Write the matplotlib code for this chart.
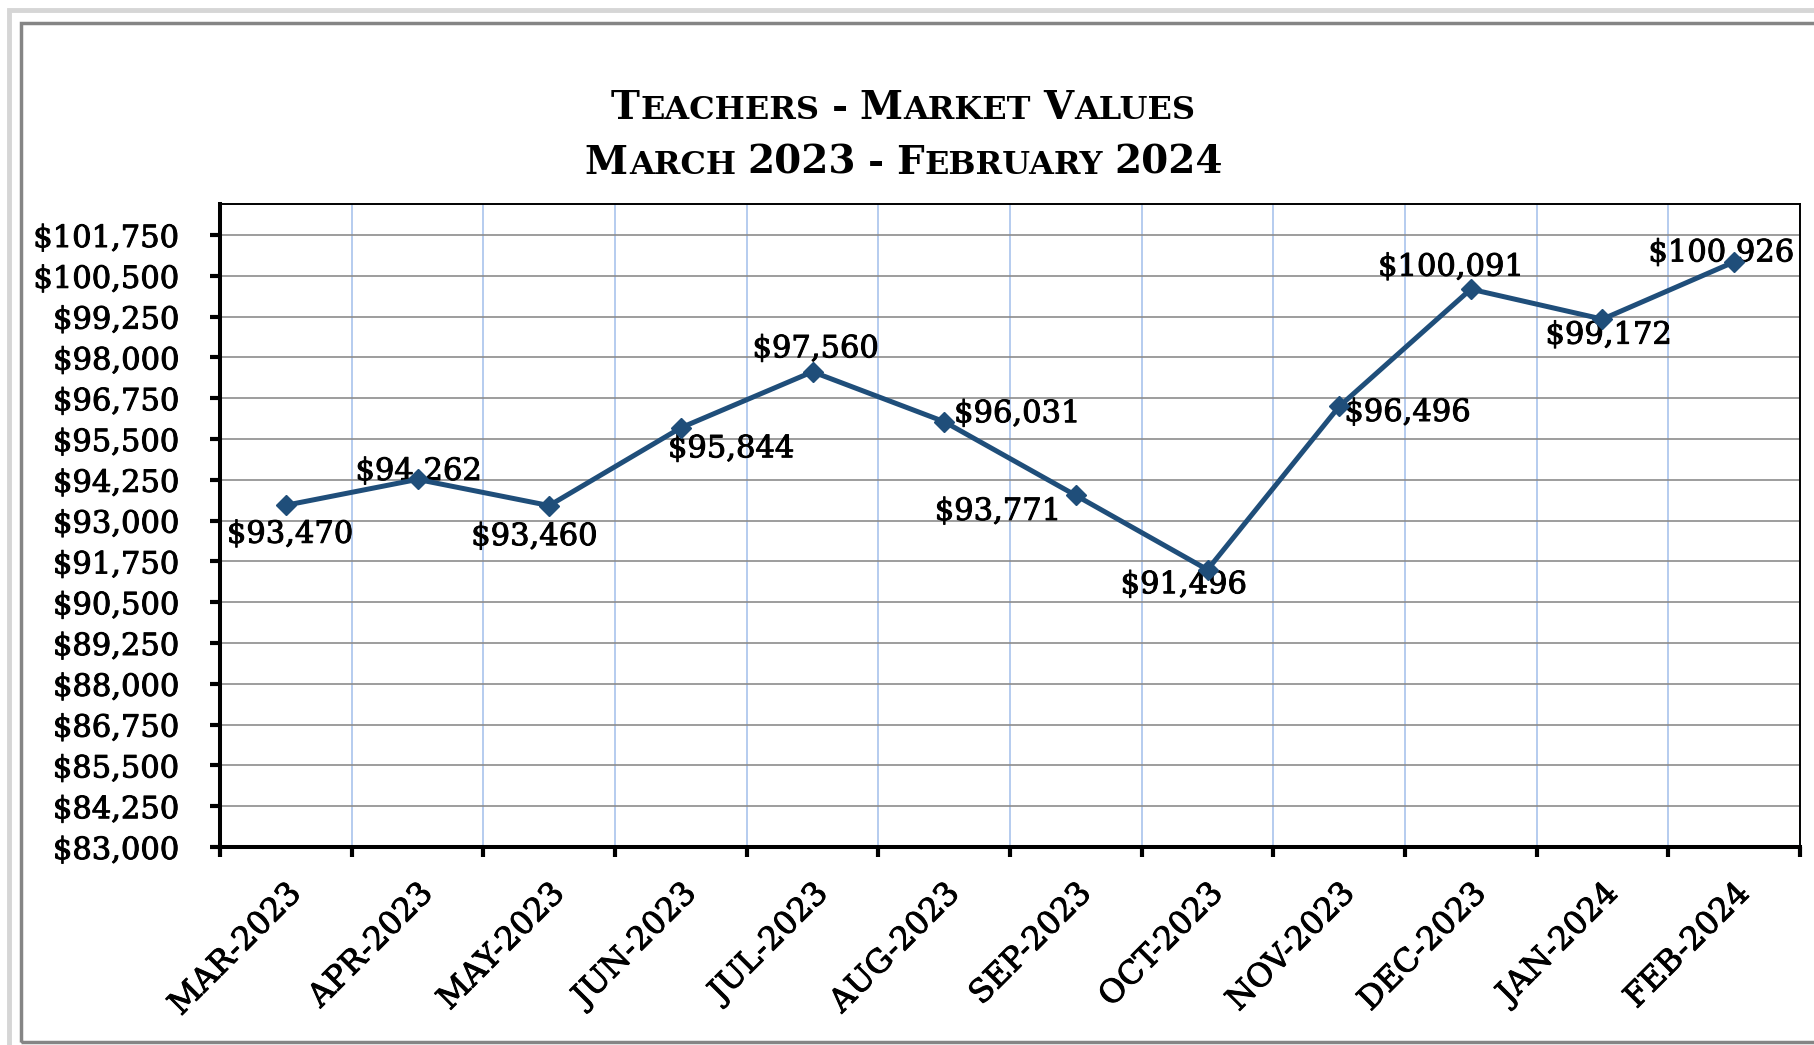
import matplotlib
matplotlib.use('Agg')
import matplotlib.pyplot as plt
import matplotlib.patheffects as pe
from matplotlib.patches import Rectangle
from matplotlib.ticker import FuncFormatter

months = ['MAR-2023', 'APR-2023', 'MAY-2023', 'JUN-2023', 'JUL-2023', 'AUG-2023',
          'SEP-2023', 'OCT-2023', 'NOV-2023', 'DEC-2023', 'JAN-2024', 'FEB-2024']
values = [93470, 94262, 93460, 95844, 97560, 96031, 93771, 91496, 96496, 100091, 99172, 100926]
y_ticks = list(range(83000, 101751, 1250))
title_lines = ['Teachers - Market Values', 'March 2023 - February 2024']

# where each value label sits, pixels from its point
label_offsets = [(4, -29), (1, 8), (-15, -31), (50, -21), (3, 23), (73, 8),
                 (-78, -16), (-24, -15), (68, -6), (-20, 22), (6, -16), (-13, 9)]

W, H, dpi = 1814, 1045, 100
line_color = '#1f4e7a'
plt.rcParams['font.family'] = 'DejaVu Serif'
heavy = [pe.withStroke(linewidth=0.7, foreground='black')]

fig = plt.figure(figsize=(W / dpi, H / dpi), dpi=dpi)
fig.patch.set_facecolor('white')

# frame round the chart
fig.patches.append(Rectangle((9 / W, -0.02), 1.2, (H - 10) / H + 0.02, transform=fig.transFigure,
                             fill=False, ec='#d6d6d6', lw=3.5))
fig.patches.append(Rectangle((21 / W, 3 / H), 1.2, (H - 26) / H, transform=fig.transFigure,
                             fill=False, ec='#858585', lw=2.5))

ax = fig.add_axes([220 / W, (H - 847) / H, 1580 / W, (847 - 204) / H])
x = list(range(len(months)))
ax.plot(x, values, color=line_color, lw=3.6, marker='D', ms=10, zorder=3)

ax.set_xlim(-0.5, len(months) - 0.5)
ax.set_ylim(83000, 102700)
ax.set_yticks(y_ticks)
ax.yaxis.set_major_formatter(FuncFormatter(lambda v, p: f'${v:,.0f}'))

ax.set_xticks([i - 0.5 for i in range(len(months) + 1)])
ax.set_xticklabels([])
ax.set_xticks(x, minor=True)
ax.set_xticklabels(months, minor=True, rotation=45, ha='right', va='top',
                   rotation_mode='anchor', fontsize=23)
ax.tick_params(axis='x', which='minor', length=0, pad=22)
ax.tick_params(axis='x', which='major', length=7.5, width=3, direction='out')
ax.tick_params(axis='y', length=7.5, width=3, pad=22, labelsize=22)
for lab in ax.get_xticklabels(minor=True) + ax.get_yticklabels():
    lab.set_path_effects(heavy)

ax.grid(axis='y', color='#8c8c8c', lw=1.2)
ax.grid(axis='x', which='major', color='#a9c3ec', lw=1.2)
ax.set_axisbelow(True)

for side in ['left', 'bottom']:
    ax.spines[side].set_linewidth(2.9)
for side in ['top', 'right']:
    ax.spines[side].set_linewidth(1.4)

for i, v in enumerate(values):
    dx, dy = label_offsets[i]
    ax.annotate(f'${v:,}', (i, v), xytext=(dx, dy), textcoords='offset pixels',
                ha='center', va='center', fontsize=22, zorder=2, path_effects=heavy)


def small_caps(text, y_px, x_center_px, big, small):
    renderer = fig.canvas.get_renderer()
    words = []
    for word in text.split(' '):
        runs = []
        for ch in word:
            size = small if ch.islower() else big
            if runs and runs[-1][1] == size:
                runs[-1][0] += ch.upper()
            else:
                runs.append([ch.upper(), size])
        words.append(runs)
    space = 0.3 * big * dpi / 72
    gap = 0.03 * big * dpi / 72
    placed = []
    pos = 0
    for wi, runs in enumerate(words):
        if wi:
            pos += space
        for ri, (s, size) in enumerate(runs):
            if ri:
                pos += gap
            t = fig.text(0, 1 - y_px / H, s, fontsize=size, fontweight='bold',
                         ha='left', va='baseline')
            w = t.get_window_extent(renderer).width
            placed.append((t, pos))
            pos += w
    start = x_center_px - pos / 2
    for t, p in placed:
        t.set_x((start + p) / W)


small_caps(title_lines[0], 119, 903, 28, 23)
small_caps(title_lines[1], 174, 904, 28, 23)

fig.savefig('out.png', dpi=dpi)
